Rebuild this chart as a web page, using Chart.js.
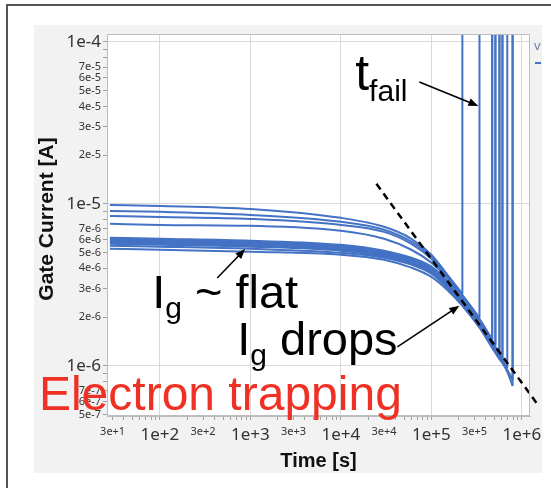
<!DOCTYPE html>
<html>
<head>
<meta charset="utf-8">
<script src="https://cdn.jsdelivr.net/npm/chart.js@4.4.1/dist/chart.umd.min.js"></script>
<style>
  html, body { margin: 0; padding: 0; background: #fff; }
  #chart { display: block; }
</style>
</head>
<body>
<canvas id="chart" width="551" height="488"></canvas>
<script>
// ---- Data ----

// stress times [s] where the gate current was logged
const sampleTimes = [28, 1e2, 1e3, 1e4, 3e4, 6e4, 1e5, 1.5e5, 2.2e5, 3.4e5, 4.7e5, 5.1e5, 5.65e5, 6.1e5, 6.9e5, 7.9e5];

// gate current per device [uA]; the last reading is the one just before breakdown
const igDev01 = [9.86, 9.72, 9.31, 8.20, 7.22, 6.09, 4.86, 3.66, 2.78];
const igDev02 = [9.05, 8.93, 8.55, 7.75, 6.92, 5.84, 4.72, 3.61, 2.74, 1.98];
const igDev03 = [8.43, 8.31, 8.08, 7.42, 6.72, 5.67, 4.59, 3.56, 2.70, 1.95, 1.45];
const igDev04 = [7.53, 7.42, 7.32, 6.82, 6.09, 5.21, 4.34, 3.49, 2.67, 1.92, 1.43, 1.35];
const igDev05 = [6.18, 6.09, 5.92, 5.59, 5.14, 4.65, 4.10, 3.35, 2.63, 1.92, 1.45];
const igDev06 = [6.09, 6.00, 5.84, 5.51, 5.07, 4.59, 4.04, 3.30, 2.59, 1.90, 1.41, 1.33];
const igDev07 = [6.00, 5.92, 5.75, 5.44, 4.99, 4.52, 3.98, 3.25, 2.55, 1.87, 1.41, 1.31, 1.22];
const igDev08 = [5.92, 5.84, 5.67, 5.36, 4.92, 4.46, 3.93, 3.21, 2.52, 1.84, 1.39, 1.29, 1.20];
const igDev09 = [5.84, 5.75, 5.59, 5.28, 4.86, 4.40, 3.87, 3.16, 2.48, 1.82, 1.37, 1.27, 1.19, 1.12];
const igDev10 = [5.75, 5.67, 5.51, 5.21, 4.79, 4.34, 3.82, 3.12, 2.45, 1.79, 1.35, 1.26, 1.17, 1.10];
const igDev11 = [5.67, 5.59, 5.44, 5.14, 4.72, 4.28, 3.77, 3.07, 2.41, 1.77, 1.33, 1.24, 1.15, 1.09, 0.97];
const igDev12 = [5.51, 5.44, 5.28, 4.99, 4.65, 4.22, 3.71, 3.03, 2.38, 1.74, 1.31, 1.22, 1.14, 1.07, 0.945, 0.82];
const igDev13 = [5.28, 5.21, 5.07, 4.86, 4.52, 4.04, 3.54, 2.94, 2.35, 1.72, 1.29, 1.20, 1.10, 1.04, 0.918, 0.753];

// current after breakdown, off the top of the plot
const breakdownCurrent = 1e-3;

// power-law guide through the drop region [s], [A]
const trendTime = [2.47e4, 1.45e6];
const trendCurrent = [1.33e-5, 5.91e-7];

// axis tick labels
const xTickLabels = ["3e+1", "1e+2", "3e+2", "1e+3", "3e+3", "1e+4", "3e+4", "1e+5", "3e+5", "1e+6"];
const yTickLabels = ["1e-4", "7e-5", "6e-5", "5e-5", "4e-5", "3e-5", "2e-5", "1e-5", "7e-6", "6e-6",
                     "5e-6", "4e-6", "3e-6", "2e-6", "1e-6", "7e-7", "6e-7", "5e-7"];

// ---- Chart ----

const devices = [igDev01, igDev02, igDev03, igDev04, igDev05, igDev06, igDev07,
                 igDev08, igDev09, igDev10, igDev11, igDev12, igDev13];

const BLUE = "#4472C4";
const TICK_FONT = "'Noto Sans', 'DejaVu Sans', sans-serif";
const NOTE_FONT = "'Liberation Sans', Arial, sans-serif";

// tick marks on every 1..9 step of each decade, labels only on some of them
function logMarks(lo, hi) {
  const out = [];
  for (let e = Math.floor(Math.log10(lo)); e <= Math.ceil(Math.log10(hi)); e++) {
    for (let m = 1; m <= 9; m++) {
      const v = +(m + "e" + e);
      if (v >= lo && v <= hi) out.push(v);
    }
  }
  return out;
}
const isDecade = v => Math.abs(Math.log10(v) - Math.round(Math.log10(v))) < 1e-9;

const X_MIN = 26, X_MAX = 1.23e6, Y_MIN = 4.9e-7, Y_MAX = 1.12e-4;
const xLabelFor = new Map(xTickLabels.map(s => [Number(s), s]));
const yLabelFor = new Map(yTickLabels.map(s => [Number(s), s]));

const curveSets = devices.map(vals => ({
  data: vals.map((v, i) => ({ x: sampleTimes[i], y: v * 1e-6 })),
  borderColor: BLUE,
  borderWidth: 2,
  pointRadius: 0,
  cubicInterpolationMode: "monotone",
  order: 2,
}));

const breakdownSets = devices.map(vals => {
  const i = vals.length - 1;
  return {
    data: [{ x: sampleTimes[i], y: vals[i] * 1e-6 }, { x: sampleTimes[i], y: breakdownCurrent }],
    borderColor: BLUE,
    borderWidth: 2,
    pointRadius: 0,
    clip: 0,
    order: 2,
  };
});

const trendSet = {
  data: trendTime.map((t, i) => ({ x: t, y: trendCurrent[i] })),
  borderColor: "#000",
  borderWidth: 2.5,
  borderDash: [7, 5],
  pointRadius: 0,
  clip: false,
  order: 0,
};

// annotations, anchored in data units
const notes = [
  { t: 1.44e4, i: 5.06e-5, main: "t", sub: "fail", size: 50, subSize: 30, drop: 11, tail: "" },
  { t: 82, i: 2.28e-6, main: "I", sub: "g", size: 47, subSize: 30, drop: 10, tail: " ~ flat" },
  { t: 715, i: 1.17e-6, main: "I", sub: "g", size: 47, subSize: 30, drop: 10, tail: " drops" },
];
const arrows = [
  { from: [7.36e4, 5.66e-5], to: [3.31e5, 4.03e-5] },
  { from: [430, 3.49e-6], to: [875, 5.27e-6] },
  { from: [4.21e4, 1.31e-6], to: [2.04e5, 2.35e-6] },
];
const headline = { t: 4.6, i: 5.34e-7, text: "Electron trapping", size: 48, color: "#EE3124" };

const framePlugin = {
  id: "frame",
  beforeDraw(chart) {
    const { ctx, width, height, chartArea: a } = chart;
    ctx.save();
    ctx.fillStyle = "#fff";
    ctx.fillRect(0, 0, width, height);
    ctx.strokeStyle = "#555";
    ctx.lineWidth = 2;
    ctx.beginPath();
    ctx.moveTo(7, height + 2);
    ctx.lineTo(7, 5);
    ctx.lineTo(width + 2, 5);
    ctx.stroke();
    ctx.fillStyle = "#f2f2f2";
    ctx.fillRect(34, 25, 508, 448);
    ctx.fillStyle = "#fff";
    ctx.fillRect(a.left, a.top, a.right - a.left, a.bottom - a.top);
    ctx.restore();
  },
  afterDatasetsDraw(chart) {
    const { ctx, chartArea: a } = chart;
    ctx.save();
    ctx.strokeStyle = "#bdbdbd";
    ctx.lineWidth = 1;
    ctx.strokeRect(a.left + 0.5, a.top + 0.5, a.right - a.left - 1, a.bottom - a.top - 1);
    // clipped legend at the right edge
    ctx.fillStyle = "#6a7fa8";
    ctx.font = `13px ${TICK_FONT}`;
    ctx.textAlign = "left";
    ctx.textBaseline = "middle";
    ctx.fillText("v", a.right + 4, 46);
    ctx.fillStyle = BLUE;
    ctx.fillRect(a.right + 5, 62, 6, 2);
    // y title sits a little above the middle of the axis
    ctx.fillStyle = "#111";
    ctx.font = `bold 21px ${NOTE_FONT}`;
    ctx.textAlign = "center";
    ctx.translate(47, (a.top + a.bottom) / 2 - 6);
    ctx.rotate(-Math.PI / 2);
    ctx.fillText("Gate Current [A]", 0, 0);
    ctx.restore();
  },
};

function drawArrow(ctx, x0, y0, x1, y1) {
  const ang = Math.atan2(y1 - y0, x1 - x0);
  const len = 10, half = 4;
  ctx.beginPath();
  ctx.moveTo(x0, y0);
  ctx.lineTo(x1 - Math.cos(ang) * len * 0.8, y1 - Math.sin(ang) * len * 0.8);
  ctx.stroke();
  ctx.beginPath();
  ctx.moveTo(x1, y1);
  ctx.lineTo(x1 - Math.cos(ang) * len - Math.sin(ang) * half, y1 - Math.sin(ang) * len + Math.cos(ang) * half);
  ctx.lineTo(x1 - Math.cos(ang) * len + Math.sin(ang) * half, y1 - Math.sin(ang) * len - Math.cos(ang) * half);
  ctx.closePath();
  ctx.fill();
}

const notesPlugin = {
  id: "notes",
  afterDraw(chart) {
    const { ctx, scales: { x, y } } = chart;
    ctx.save();
    ctx.fillStyle = "#000";
    ctx.strokeStyle = "#000";
    ctx.lineWidth = 1.6;
    arrows.forEach(a => drawArrow(ctx,
      x.getPixelForValue(a.from[0]), y.getPixelForValue(a.from[1]),
      x.getPixelForValue(a.to[0]), y.getPixelForValue(a.to[1])));

    ctx.textAlign = "left";
    ctx.textBaseline = "alphabetic";
    notes.forEach(n => {
      let px = x.getPixelForValue(n.t);
      const py = y.getPixelForValue(n.i);
      ctx.font = `${n.size}px ${NOTE_FONT}`;
      ctx.fillText(n.main, px, py);
      px += ctx.measureText(n.main).width;
      ctx.font = `${n.subSize}px ${NOTE_FONT}`;
      ctx.fillText(n.sub, px, py + n.drop);
      px += ctx.measureText(n.sub).width;
      if (n.tail) {
        ctx.font = `${n.size}px ${NOTE_FONT}`;
        ctx.fillText(n.tail, px, py);
      }
    });

    ctx.fillStyle = headline.color;
    ctx.font = `${headline.size}px ${NOTE_FONT}`;
    ctx.fillText(headline.text, x.getPixelForValue(headline.t), y.getPixelForValue(headline.i));
    ctx.restore();
  },
};

new Chart(document.getElementById("chart"), {
  type: "line",
  data: { datasets: [trendSet, ...curveSets, ...breakdownSets] },
  options: {
    responsive: false,
    animation: false,
    events: [],
    layout: { padding: { left: 34, top: 34, right: 21, bottom: 15 } },
    plugins: { legend: { display: false }, tooltip: { enabled: false } },
    scales: {
      x: {
        type: "logarithmic",
        min: X_MIN,
        max: X_MAX,
        afterFit: s => { s.height = 57; },
        afterBuildTicks: s => { s.ticks = logMarks(X_MIN, X_MAX).map(v => ({ value: v })); },
        border: { display: true, color: "#bdbdbd" },
        grid: {
          color: c => (c.tick && isDecade(c.tick.value) ? "#d9d9d9" : "rgba(0,0,0,0)"),
          tickColor: "#a0a0a0",
          tickLength: 4,
        },
        ticks: {
          autoSkip: false,
          maxRotation: 0,
          padding: 5,
          color: "#333",
          font: c => ({ family: TICK_FONT, size: c.tick && isDecade(c.tick.value) ? 17 : 11 }),
          callback: v => xLabelFor.get(v) || "",
        },
        title: {
          display: true,
          text: "Time [s]",
          color: "#111",
          padding: 0,
          font: { family: NOTE_FONT, size: 20, weight: "bold" },
        },
      },
      y: {
        type: "logarithmic",
        min: Y_MIN,
        max: Y_MAX,
        afterFit: s => { s.width = 73; },
        afterBuildTicks: s => { s.ticks = logMarks(Y_MIN, Y_MAX).map(v => ({ value: v })); },
        border: { display: true, color: "#bdbdbd" },
        grid: {
          color: c => (c.tick && isDecade(c.tick.value) ? "#d9d9d9" : "rgba(0,0,0,0)"),
          tickColor: "#a0a0a0",
          tickLength: 4,
        },
        ticks: {
          autoSkip: false,
          padding: 2,
          color: "#333",
          font: c => ({ family: TICK_FONT, size: c.tick && isDecade(c.tick.value) ? 17 : 11 }),
          callback: v => yLabelFor.get(v) || "",
        },
      },
    },
  },
  plugins: [framePlugin, notesPlugin],
});
</script>
</body>
</html>
